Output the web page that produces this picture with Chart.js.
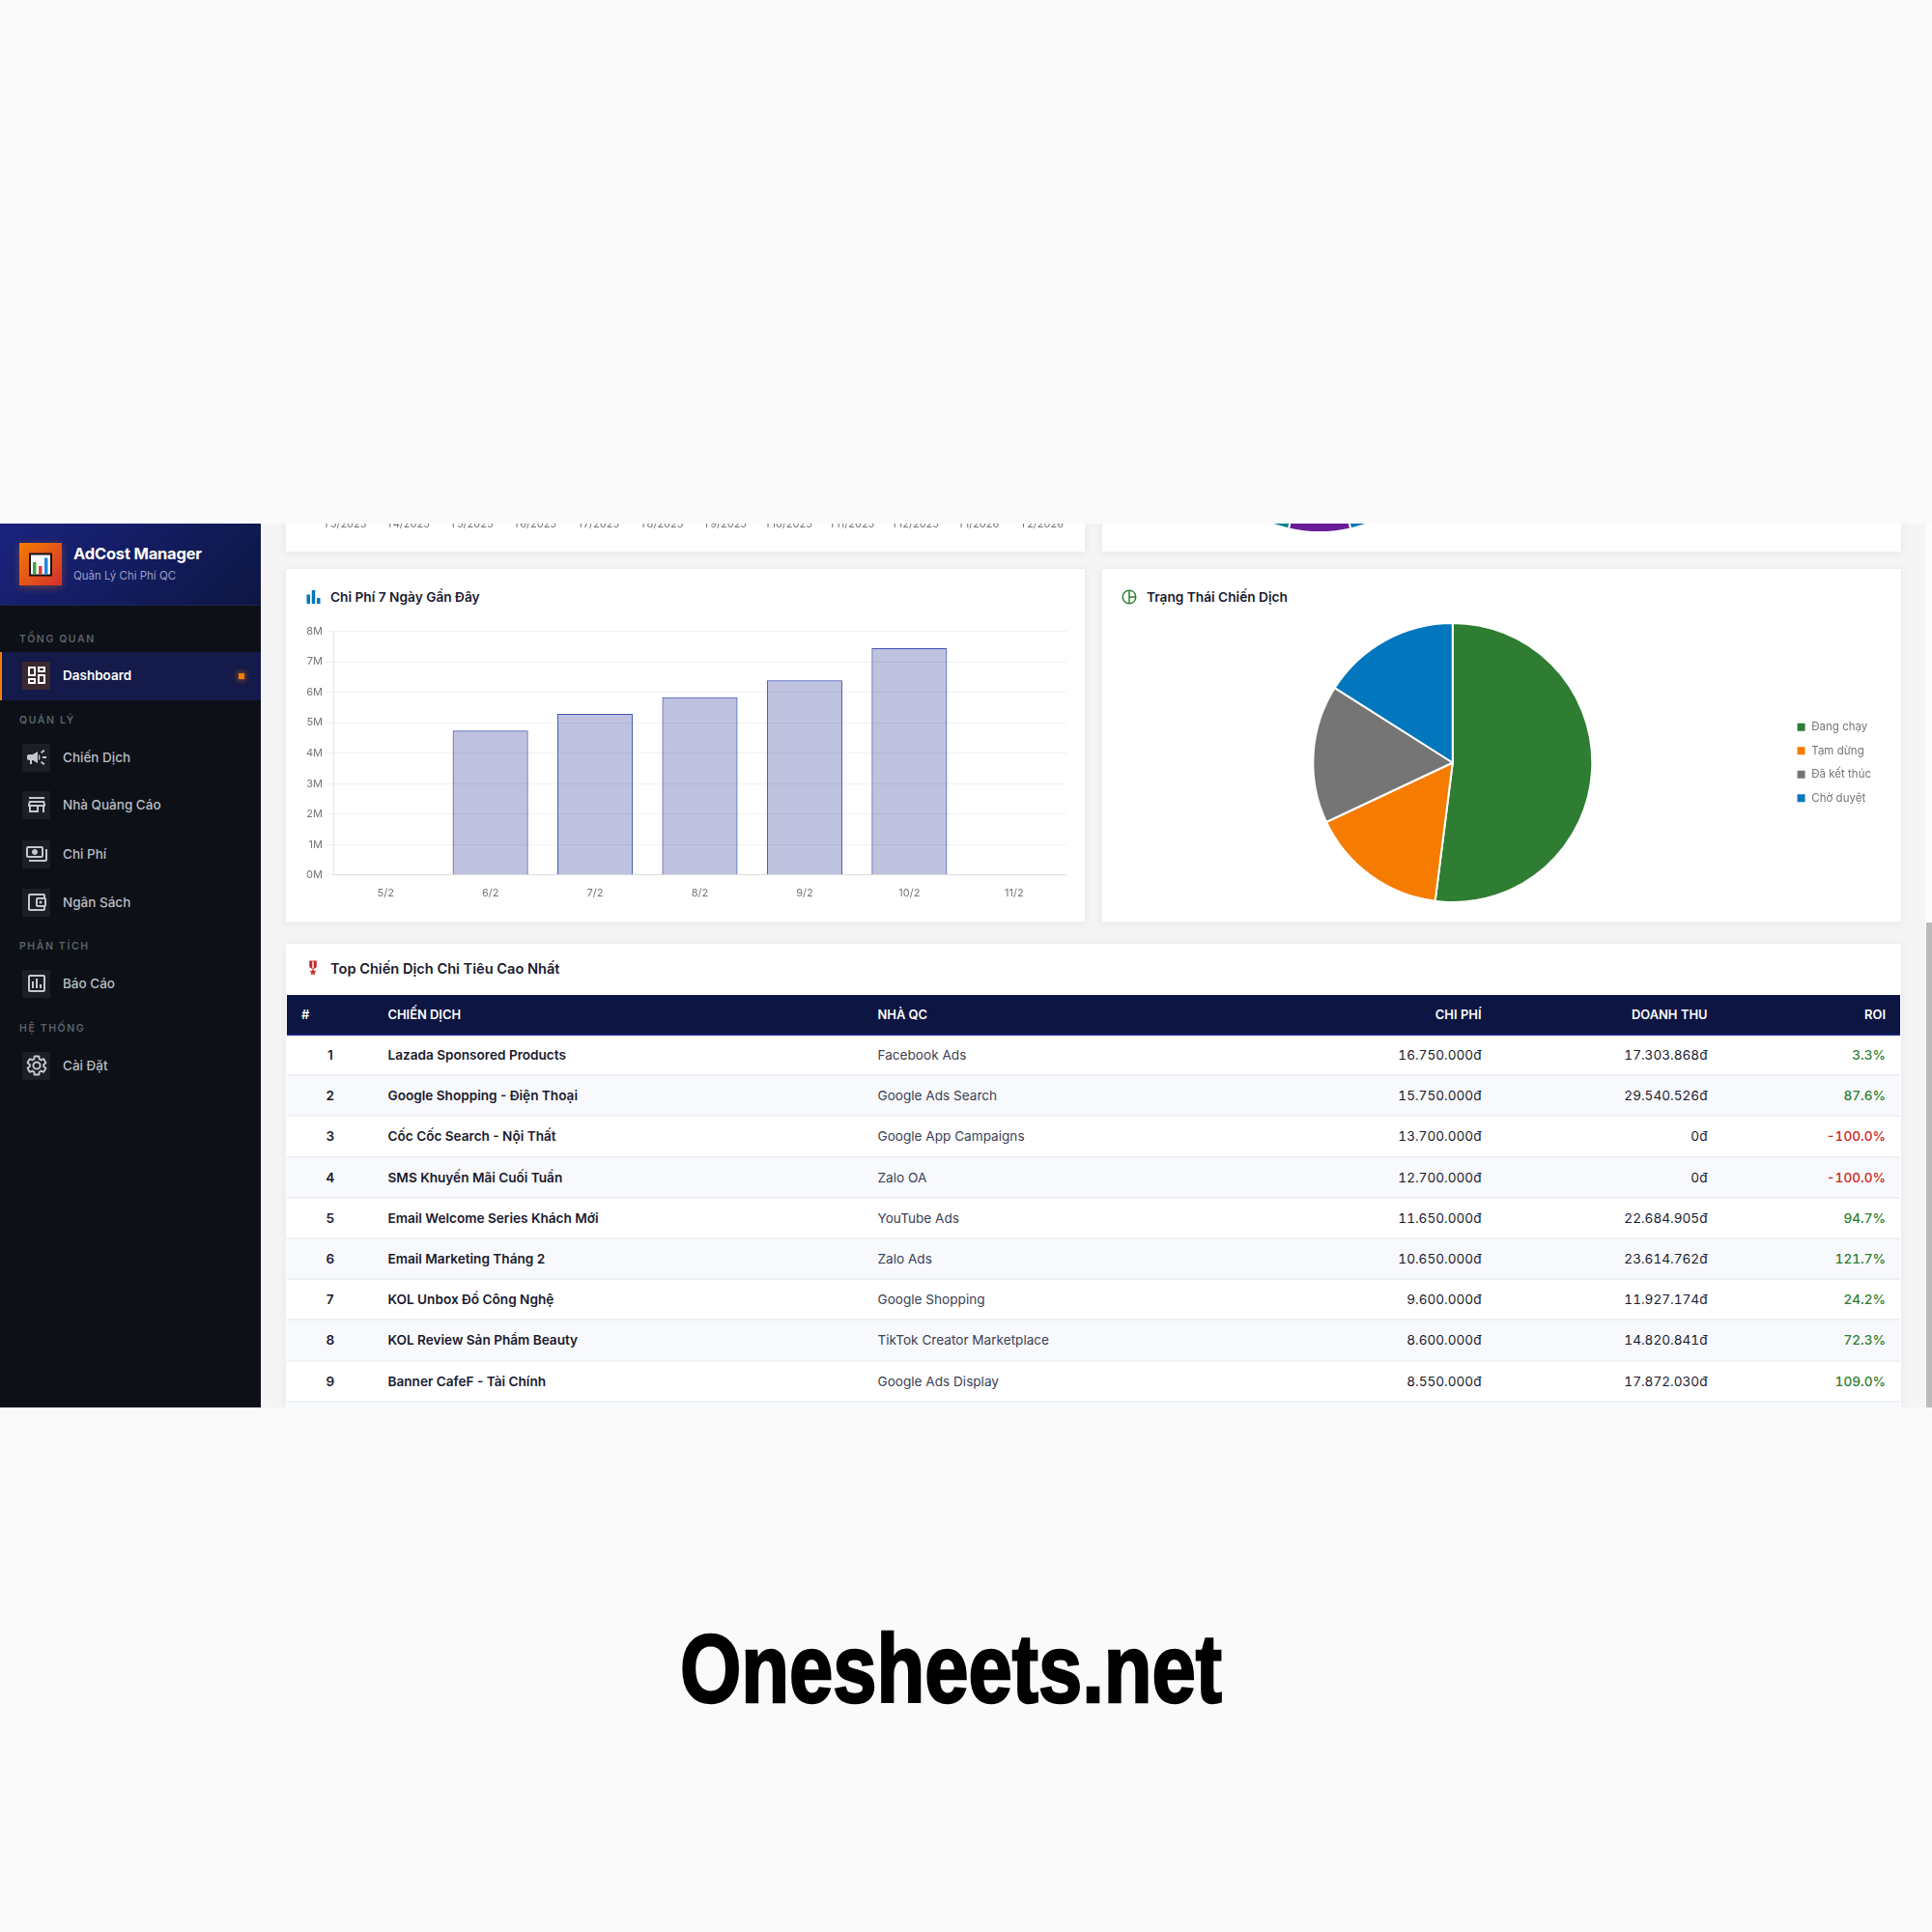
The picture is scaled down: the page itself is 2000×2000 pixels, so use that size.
<!DOCTYPE html>
<html lang="vi">
<head>
<meta charset="UTF-8">
<title>AdCost Manager</title>
<script src="https://cdn.jsdelivr.net/npm/chart.js"></script>
<style>
    html, body { margin: 0; padding: 0; }
    body { width: 2000px; height: 2000px; overflow: hidden; background: #fafafa; font-family: Inter, sans-serif; position: relative; }
    #frame { position: absolute; left: 0; top: 542px; width: 2000px; height: 915px; overflow: hidden; background: #f5f5f5; filter: blur(0.3px); }
    /* children of #frame use page coordinates through this shifted layer */
    #layer { position: absolute; left: 0; top: -542px; width: 2000px; height: 2000px; }
    #layer > * { position: absolute; }
    .card { background: #fff; box-shadow: 0 2px 10px rgba(0,0,0,.07); outline: 1px solid #eeeef6; }
    .t { white-space: nowrap; transform: translateY(-50%); line-height: 1.2; }
    .title { font-size: 13.7px; font-weight: 600; color: #1a1a2e; }
    #side { left: 0; top: 542px; width: 270px; height: 915px; background: #0d1117; }
    #brand { left: 0; top: 542px; width: 270px; height: 85px; background: linear-gradient(135deg, #1a237e, #0d1642); border-bottom: 1px solid #1c2450; box-sizing: border-box; }
    #logo { left: 20px; top: 562px; width: 44px; height: 44px; background: linear-gradient(135deg, #f57c00, #d32f2f); box-shadow: 0 2px 8px rgba(245,124,0,.35); }
    .sec { left: 20px; font-size: 10.5px; font-weight: 600; letter-spacing: 1.6px; color: #5c6269; }
    .ibox { left: 23px; width: 29px; height: 29px; background: rgba(255,255,255,.06); display: flex; align-items: center; justify-content: center; }
    .nav { left: 65px; font-size: 13.5px; font-weight: 500; color: #b9bdc4; }
    #tbl { left: 297px; top: 1030px; width: 1670px; border-collapse: collapse; table-layout: fixed; font-size: 13.6px; color: #1a1a2e; }
    #tbl th { height: 40px; background: #0d1642; color: #fff; font-size: 12.9px; font-weight: 600; border-bottom: 2px solid #1a237e; padding: 0 15px; text-align: left; }
    #tbl td { height: 40.2px; padding: 0 15px; border-bottom: 2px solid #eef0f5; }
    #tbl tbody tr:nth-child(even) td { background: #f8f9fc; }
    #tbl .r { text-align: right; font-variant-numeric: tabular-nums; }
    #tbl .n { text-align: center; font-weight: 600; padding: 0; }
    #tbl .b { font-weight: 600; }
    #tbl .q { color: #3a3f55; }
    #wm { position: absolute; left: 704px; top: 1677px; font-family: "Liberation Sans", sans-serif; font-weight: 700; font-size: 100px; line-height: 1; color: #000; -webkit-text-stroke: 2.5px #000; white-space: nowrap; transform: scaleX(0.814); transform-origin: left top; }
</style>
</head>
<body>
<div id="frame"><div id="layer"></div></div>
<div id="wm">Onesheets.net</div>

<script>
    // Chi phi 7 ngay
    const dayLabels = ['5/2', '6/2', '7/2', '8/2', '9/2', '10/2', '11/2'];
    const dayCosts = [0, 4740000, 5290000, 5840000, 6390000, 7450000, 0];

    // Trang thai chien dich
    const statusLabels = ['Đang chạy', 'Tạm dừng', 'Đã kết thúc', 'Chờ duyệt'];
    const statusCounts = [13, 4, 4, 4];
    const statusColors = ['#2e7d32', '#f57c00', '#757575', '#0277bd'];

    // Chart above, only its axis labels are still in view
    const monthLabels = ['T3/2025', 'T4/2025', 'T5/2025', 'T6/2025', 'T7/2025', 'T8/2025', 'T9/2025', 'T10/2025', 'T11/2025', 'T12/2025', 'T1/2026', 'T2/2026'];

    // Pie above, only the bottom slices are in view
    const topPieShares = [46.4, 7.2, 46.4];
    const topPieColors = ['#0277bd', '#6a1b9a', '#00838f'];

    // Table
    const rowCampaigns = ['Lazada Sponsored Products', 'Google Shopping - Điện Thoại', 'Cốc Cốc Search - Nội Thất', 'SMS Khuyến Mãi Cuối Tuần', 'Email Welcome Series Khách Mới', 'Email Marketing Tháng 2', 'KOL Unbox Đồ Công Nghệ', 'KOL Review Sản Phẩm Beauty', 'Banner CafeF - Tài Chính', ''];
    const rowVendors = ['Facebook Ads', 'Google Ads Search', 'Google App Campaigns', 'Zalo OA', 'YouTube Ads', 'Zalo Ads', 'Google Shopping', 'TikTok Creator Marketplace', 'Google Ads Display', ''];
    const rowCosts = ['16.750.000đ', '15.750.000đ', '13.700.000đ', '12.700.000đ', '11.650.000đ', '10.650.000đ', '9.600.000đ', '8.600.000đ', '8.550.000đ', ''];
    const rowRevenue = ['17.303.868đ', '29.540.526đ', '0đ', '0đ', '22.684.905đ', '23.614.762đ', '11.927.174đ', '14.820.841đ', '17.872.030đ', ''];
    const rowRoi = ['3.3%', '87.6%', '-100.0%', '-100.0%', '94.7%', '121.7%', '24.2%', '72.3%', '109.0%', ''];

    // Material icon paths
    const icons = {
        dash: 'M19 5v2h-4V5h4M9 5v6H5V5h4m10 8v6h-4v-6h4M9 17v2H5v-2h4M21 3h-8v6h8V3zM11 3H3v10h8V3zm10 8h-8v10h8V11zm-10 4H3v6h8v-6z',
        camp: 'M18 11v2h4v-2h-4zm-2 6.61c.96.71 2.21 1.65 3.2 2.39.4-.53.8-1.07 1.2-1.6-.99-.74-2.24-1.68-3.2-2.4-.4.54-.8 1.08-1.2 1.61zM20.4 5.6c-.4-.53-.8-1.07-1.2-1.6-.99.74-2.24 1.68-3.2 2.4.4.53.8 1.07 1.2 1.6.96-.72 2.21-1.65 3.2-2.4zM4 9c-1.1 0-2 .9-2 2v2c0 1.1.9 2 2 2h1v4h2v-4h1l5 3V6L8 9H4zm11.5 3c0-1.33-.58-2.53-1.5-3.35v6.69c.92-.81 1.5-2.01 1.5-3.34z',
        store: 'M4 4h16v2H4zM4 8h16l1 4v2h-1v6h-2v-6h-4v6H4v-6H3v-2zM6 14v4h6v-4zM5.5 10l-.5 2h14l-.5-2z',
        pay: 'M19 14V6c0-1.1-.9-2-2-2H3c-1.1 0-2 .9-2 2v8c0 1.1.9 2 2 2h14c1.1 0 2-.9 2-2zM3 14V6h14v8H3zm7-7c-1.66 0-3 1.34-3 3s1.34 3 3 3 3-1.34 3-3-1.34-3-3-3zm13 0v11c0 1.1-.9 2-2 2H4v-2h17V7h2z',
        wallet: 'M21 7.28V5c0-1.1-.9-2-2-2H5c-1.11 0-2 .9-2 2v14c0 1.1.89 2 2 2h14c1.1 0 2-.9 2-2v-2.28c.59-.35 1-.98 1-1.72V9c0-.74-.41-1.37-1-1.72zM20 9v6h-7V9h7zM5 19V5h14v2h-6c-1.1 0-2 .9-2 2v6c0 1.1.9 2 2 2h6v2H5zm11-5.5a1.5 1.5 0 1 0 0-3 1.5 1.5 0 0 0 0 3z',
        report: 'M19 3H5c-1.1 0-2 .9-2 2v14c0 1.1.9 2 2 2h14c1.1 0 2-.9 2-2V5c0-1.1-.9-2-2-2zm0 16H5V5h14v14zM7 10h2v7H7zm4-3h2v10h-2zm4 6h2v4h-2z',
        gear: 'M19.14 12.94c.04-.3.06-.61.06-.94 0-.32-.02-.64-.07-.94l2.03-1.58a.49.49 0 0 0 .12-.61l-1.92-3.32a.488.488 0 0 0-.59-.22l-2.39.96c-.5-.38-1.03-.7-1.62-.94l-.36-2.54a.484.484 0 0 0-.48-.41h-3.84c-.24 0-.43.17-.47.41l-.36 2.54c-.59.24-1.13.57-1.62.94l-2.39-.96c-.22-.08-.47 0-.59.22L2.74 8.87c-.12.21-.08.47.12.61l2.03 1.58c-.05.3-.09.63-.09.94s.02.64.07.94l-2.03 1.58a.49.49 0 0 0-.12.61l1.92 3.32c.12.22.37.29.59.22l2.39-.96c.5.38 1.03.7 1.62.94l.36 2.54c.05.24.24.41.48.41h3.84c.24 0 .44-.17.47-.41l.36-2.54c.59-.24 1.13-.56 1.62-.94l2.39.96c.22.08.47 0 .59-.22l1.92-3.32c.12-.22.07-.47-.12-.61l-2.01-1.58zM12 15.6c-1.98 0-3.6-1.62-3.6-3.6s1.62-3.6 3.6-3.6 3.6 1.62 3.6 3.6-1.62 3.6-3.6 3.6z',
        bars: 'M4 9h4v11H4zm12 4h4v7h-4zm-6-9h4v16h-4z',
        pie: 'M12 2a10 10 0 1 0 0 20 10 10 0 0 0 0-20zM4 12c0-4.07 3.06-7.44 7-7.93v15.86C7.06 19.44 4 16.07 4 12zm9-7.93A8 8 0 0 1 19.93 11H13V4.07zM13 19.93V13h6.93A8 8 0 0 1 13 19.93z',
        medal: 'M17 10.43V2H7v8.43c0 .35.18.68.49.86l4.18 2.51-.99 2.34-3.41.29 2.59 2.24L9.07 22 12 20.23 14.93 22l-.78-3.33 2.59-2.24-3.41-.29-.99-2.34 4.18-2.51c.3-.18.48-.5.48-.86zM13 12.23l-1 .6-1-.6V3h2v9.23z'
    };

    const layer = document.getElementById('layer');

    function add(tag, css, cls, html) {
        const el = document.createElement(tag);
        if (cls) el.className = cls;
        el.style.cssText = css;
        if (html) el.innerHTML = html;
        layer.appendChild(el);
        return el;
    }
    function svg(name, size, color) {
        // gear is drawn as an outline, the rest filled
        const paint = name === 'gear'
            ? 'fill="none" stroke="' + color + '" stroke-width="2"'
            : 'fill="' + color + '" fill-rule="evenodd"';
        return '<svg width="' + size + '" height="' + size + '" viewBox="0 0 24 24" ' + paint + '><path d="' + icons[name] + '"/></svg>';
    }

    // cards
    add('div', 'left:296px;top:500px;width:827px;height:71px', 'card');
    add('div', 'left:1141px;top:500px;width:827px;height:71px', 'card');
    add('div', 'left:296px;top:589px;width:827px;height:365px', 'card');
    add('div', 'left:1141px;top:589px;width:827px;height:365px', 'card');
    add('div', 'left:296px;top:977px;width:1672px;height:600px', 'card');

    // strip and thumb at the right edge
    add('div', 'left:1993px;top:542px;width:7px;height:915px;background:#fcfcfc');
    add('div', 'left:1994px;top:955px;width:6px;height:502px;background:#bbb');

    // card titles
    add('div', 'left:313.5px;top:618px;line-height:0;transform:translateY(-50%)', '', svg('bars', 21, '#0277bd'));
    add('div', 'left:342px;top:618px', 't title', 'Chi Phí 7 Ngày Gần Đây');
    add('div', 'left:1160px;top:618px;line-height:0;transform:translateY(-50%)', '', svg('pie', 18, '#2e7d32'));
    add('div', 'left:1187px;top:618px', 't title', 'Trạng Thái Chiến Dịch');
    add('div', 'left:315px;top:1002px;line-height:0;transform:translateY(-50%)', '', svg('medal', 18, '#c62828'));
    add('div', 'left:342px;top:1004px;font-size:14.6px', 't title', 'Top Chiến Dịch Chi Tiêu Cao Nhất');

    // canvases
    function addCanvas(id, x, y, w, h) {
        const box = add('div', 'left:' + x + 'px;top:' + y + 'px;width:' + w + 'px;height:' + h + 'px');
        box.innerHTML = '<canvas id="' + id + '"></canvas>';
    }
    addCanvas('monthChart', 316, 300, 788, 252);
    addCanvas('topPie', 1222, 263, 288, 290);
    addCanvas('dayChart', 316, 644, 788, 291);
    addCanvas('statusChart', 1161, 644, 786, 291);

    // table
    let rows = '';
    rowCampaigns.forEach((c, i) => {
        if (!c) { rows += '<tr><td colspan="6"></td></tr>'; return; }
        const roiColor = rowRoi[i][0] === '-' ? '#c62828' : '#2e7d32';
        rows += '<tr><td class="n">' + (i + 1) + '</td><td class="b">' + c + '</td><td class="q">' + rowVendors[i] + '</td>'
            + '<td class="r">' + rowCosts[i] + '</td><td class="r">' + rowRevenue[i] + '</td>'
            + '<td class="r" style="color:' + roiColor + ';font-weight:500">' + rowRoi[i] + '</td></tr>';
    });
    add('table', '', '', '<colgroup><col style="width:89.5px"><col style="width:507px"><col style="width:400px"><col style="width:255px"><col style="width:234px"><col style="width:184.5px"></colgroup>'
        + '<thead><tr><th>#</th><th>CHIẾN DỊCH</th><th>NHÀ QC</th><th class="r">CHI PHÍ</th><th class="r">DOANH THU</th><th class="r">ROI</th></tr></thead><tbody>' + rows + '</tbody>').id = 'tbl';

    // sidebar
    add('div', '', '').id = 'side';
    add('div', '', '').id = 'brand';
    add('div', '', '', '<svg width="44" height="44" viewBox="0 0 44 44"><rect x="10" y="10.5" width="24" height="24" fill="#111"/><rect x="12" y="12.5" width="20" height="20" fill="#fff"/><rect x="14" y="20" width="3.5" height="12.5" fill="#43a047"/><rect x="20" y="24" width="3.5" height="8.5" fill="#e53935"/><rect x="26" y="15.5" width="3.5" height="17" fill="#1e88e5"/></svg>').id = 'logo';
    add('div', 'left:76px;top:573.5px;font-size:16.5px;font-weight:700;color:#fff;letter-spacing:-.2px', 't', 'AdCost Manager');
    add('div', 'left:76px;top:596.5px;font-size:11.5px;color:#9aa0c4', 't', 'Quản Lý Chi Phí QC');

    add('div', 'left:0;top:675px;width:270px;height:50px;background:#141a4a;border-left:2px solid #f57c00;box-sizing:border-box');
    add('div', 'left:247px;top:697px;width:6px;height:6px;background:#f57c00;box-shadow:0 0 6px #f57c00');

    const sections = [['TỔNG QUAN', 661.5], ['QUẢN LÝ', 745.5], ['PHÂN TÍCH', 980], ['HỆ THỐNG', 1064.5]];
    sections.forEach(s => add('div', 'top:' + s[1] + 'px', 't sec', s[0]));

    const navItems = [['Dashboard', 699, 'dash'], ['Chiến Dịch', 784, 'camp'], ['Nhà Quảng Cáo', 833, 'store'], ['Chi Phí', 884, 'pay'], ['Ngân Sách', 934, 'wallet'], ['Báo Cáo', 1018, 'report'], ['Cài Đặt', 1103, 'gear']];
    navItems.forEach((n, i) => {
        const on = i === 0;
        add('div', 'top:' + (n[1] - 14.5) + 'px;' + (on ? 'background:#3a2a30' : ''), 'ibox', svg(n[2], 24, on ? '#fff' : '#c4c8ce'));
        add('div', 'top:' + n[1] + 'px;' + (on ? 'color:#fff;font-weight:600' : ''), 't nav', n[0]);
    });

    Chart.defaults.font.family = 'Inter, sans-serif';
    Chart.defaults.font.size = 11;
    Chart.defaults.color = '#757575';
    Chart.defaults.animation = false;

    new Chart(document.getElementById('monthChart'), {
        type: 'line',
        data: { labels: monthLabels, datasets: [{ data: [] }] },
        options: {
            responsive: true,
            maintainAspectRatio: false,
            layout: { padding: { left: 41, right: 24 } },
            plugins: { legend: { display: false } },
            scales: {
                x: { grid: { display: false }, ticks: { maxRotation: 0, autoSkip: false } },
                y: { display: false }
            }
        }
    });

    new Chart(document.getElementById('topPie'), {
        type: 'pie',
        data: { datasets: [{ data: topPieShares, backgroundColor: topPieColors, borderColor: '#fff', borderWidth: 2 }] },
        options: { responsive: true, maintainAspectRatio: false, plugins: { legend: { display: false } } }
    });

    new Chart(document.getElementById('dayChart'), {
        type: 'bar',
        data: {
            labels: dayLabels,
            datasets: [{ data: dayCosts, backgroundColor: 'rgba(40,53,147,0.3)', borderColor: '#3f51b5', borderWidth: 1 }]
        },
        options: {
            responsive: true,
            maintainAspectRatio: false,
            plugins: { legend: { display: false } },
            scales: {
                x: { grid: { display: false }, border: { color: '#dcdcdc' }, ticks: { padding: 4 } },
                y: {
                    min: 0,
                    max: 8000000,
                    afterFit: scale => { scale.width = 29; },
                    grid: { color: '#f1f1f1' },
                    border: { color: '#e4e4e4' },
                    ticks: { stepSize: 1000000, callback: v => (v / 1000000) + 'M' }
                }
            }
        }
    });

    new Chart(document.getElementById('statusChart'), {
        type: 'pie',
        data: {
            labels: statusLabels,
            datasets: [{ data: statusCounts, backgroundColor: statusColors, borderColor: '#fff', borderWidth: 2 }]
        },
        options: {
            responsive: true,
            maintainAspectRatio: false,
            plugins: {
                legend: {
                    position: 'right',
                    labels: { boxWidth: 10, boxHeight: 10, padding: 13, font: { size: 11.5 }, color: '#757575' }
                }
            }
        }
    });
</script>
</body>
</html>
